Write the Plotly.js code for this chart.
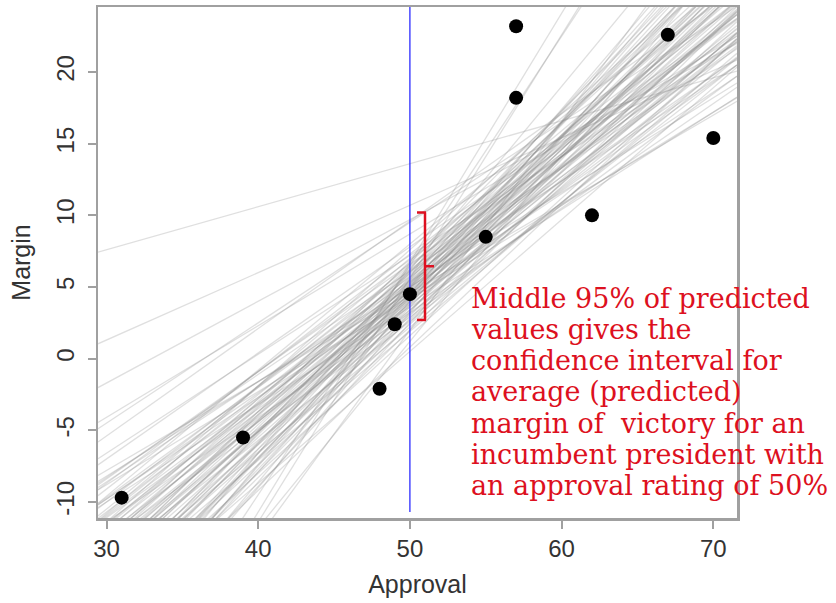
<!DOCTYPE html>
<html>
<head>
<meta charset="utf-8">
<script src="https://cdn.plot.ly/plotly-3.0.1.min.js"></script>
<style>html,body{margin:0;padding:0;background:#fff;}#chart{width:836px;height:603px;}</style>
</head>
<body>
<div id="chart"></div>
<script>
// Observed incumbent elections
const approval = [31, 39, 48, 49, 50, 55, 57, 57, 62, 67, 70];
const margin   = [-9.7, -5.5, -2.1, 2.4, 4.5, 8.5, 23.2, 18.2, 10.0, 22.6, 15.4];

// Bootstrap regression lines: slope and predicted margin at approval = 50
const bootSlope = [0.62,0.65,0.66,0.68,0.70,0.71,0.72,0.73,0.74,0.75,0.76,0.77,0.78,0.78,0.79,0.80,0.80,0.81,0.82,0.82,
  0.83,0.83,0.84,0.84,0.85,0.85,0.86,0.86,0.87,0.87,0.88,0.88,0.89,0.89,0.90,0.90,0.91,0.91,0.92,0.92,
  0.93,0.93,0.94,0.94,0.95,0.95,0.96,0.96,0.97,0.97,0.98,0.98,0.99,1.00,1.00,1.01,1.02,1.02,1.03,1.04,
  1.05,1.05,1.06,1.07,1.08,1.09,1.10,1.11,1.12,1.13,1.14,1.15,1.17,1.18,1.20,1.22,1.24,1.26,1.28,1.30,
  0.74,0.69,0.88,0.95,1.00,0.92,
  0.30,0.47,0.57,0.64,0.70,0.75,1.70,1.74,1.60,1.45];
const bootAt50 = [4.6,4.2,5.0,3.6,5.4,4.4,6.1,3.2,5.0,6.6,4.1,5.7,2.9,6.9,4.8,5.3,3.8,6.2,4.5,7.3,
  2.6,5.1,4.0,5.9,3.4,6.5,4.7,5.5,2.2,4.3,6.0,3.7,5.2,7.0,4.6,1.9,5.8,3.1,4.9,6.4,
  4.2,2.7,5.4,3.9,6.1,4.5,1.6,5.0,3.4,6.7,4.8,2.4,5.6,4.1,3.0,5.3,6.3,4.4,2.0,5.1,
  3.6,6.8,4.6,2.8,5.7,4.0,3.3,5.2,6.0,4.3,2.5,4.9,3.8,5.5,4.5,3.2,5.0,4.0,6.2,1.2,
  7.8,7.2,8.0,7.6,0.8,0.5,
  13.6,10.7,9.7,8.7,9.5,9.6,5.6,6.7,6.5,2.0];

// Confidence bracket at approval = 50
const ciX = 50;
const ciLow = 2.7;
const ciHigh = 10.2;

const xTicks = [30, 40, 50, 60, 70];
const yTicks = [-10, -5, 0, 5, 10, 15, 20];

const noteLines = [
  "Middle 95% of predicted",
  "values gives the",
  "confidence interval for",
  "average (predicted)",
  "margin of  victory for an",
  "incumbent president with",
  "an approval rating of 50%"
];

const xRange = [29.44, 71.56];
const yRange = [-11.12, 24.54];

const traces = [];
for (let i = 0; i < bootSlope.length; i++) {
  const xs = [xRange[0], xRange[1]];
  traces.push({
    x: xs,
    y: xs.map(v => bootAt50[i] + bootSlope[i] * (v - 50)),
    mode: 'lines', type: 'scatter', hoverinfo: 'skip', showlegend: false,
    line: {color: 'rgba(135,135,135,0.27)', width: 1.3}
  });
}
// vertical reference line at approval = 50
traces.push({
  x: [ciX, ciX], y: [-10.7, yRange[1]],
  mode: 'lines', type: 'scatter', showlegend: false,
  line: {color: '#1a1aff', width: 1.2}
});
traces.push({
  x: approval, y: margin, mode: 'markers', type: 'scatter', showlegend: false,
  marker: {color: '#000', size: 14}
});

// plot-area geometry (pixels)
const L = 98, R = 99, T = 7, B = 85, W = 836, H = 603;
const pw = W - L - R, ph = H - T - B;
const px2x = p => xRange[0] + (p - L) / pw * (xRange[1] - xRange[0]);

const red = '#dd1020';
const shapes = [
  {type: 'line', xref: 'x', yref: 'y', x0: px2x(425), x1: px2x(425), y0: ciLow, y1: ciHigh, line: {color: red, width: 2.5}},
  {type: 'line', xref: 'x', yref: 'y', x0: px2x(417), x1: px2x(426), y0: ciHigh, y1: ciHigh, line: {color: red, width: 2.5}},
  {type: 'line', xref: 'x', yref: 'y', x0: px2x(417), x1: px2x(426), y0: ciLow, y1: ciLow, line: {color: red, width: 2.5}},
  {type: 'line', xref: 'x', yref: 'y', x0: px2x(425), x1: px2x(434), y0: (ciLow + ciHigh) / 2, y1: (ciLow + ciHigh) / 2, line: {color: red, width: 2.5}}
];

const annotations = noteLines.map((t, i) => {
  const baseline = 307 + i * 31.3;
  const mid = baseline - 9;
  return {
    text: t, xref: 'paper', yref: 'paper',
    x: (469 - L) / pw, y: 1 - (mid - T) / ph,
    xanchor: 'left', yanchor: 'middle', showarrow: false,
    font: {family: 'DejaVu Serif', size: 27, color: red}
  };
});

const axisCommon = {
  showgrid: false, zeroline: false, showline: true, mirror: true,
  linecolor: '#a0a0a0', linewidth: 2.5,
  ticks: 'outside', ticklen: 8, tickwidth: 2, tickcolor: '#a0a0a0',
  tickfont: {family: 'Liberation Sans, Arial, sans-serif', size: 24, color: '#333'}
};

const layout = {
  width: W, height: H,
  margin: {l: L, r: R, t: T, b: B},
  paper_bgcolor: '#fff', plot_bgcolor: '#fff',
  showlegend: false,
  xaxis: Object.assign({}, axisCommon, {
    range: xRange, tickmode: 'array', tickvals: xTicks, ticktext: xTicks.map(String),
    title: {text: 'Approval', font: {family: 'Liberation Sans, Arial, sans-serif', size: 25, color: '#333'}, standoff: 14}
  }),
  yaxis: Object.assign({}, axisCommon, {
    range: yRange, tickmode: 'array', tickvals: yTicks, ticktext: yTicks.map(String),
    tickangle: -90, ticklabelstandoff: 4,
    title: {text: 'Margin', font: {family: 'Liberation Sans, Arial, sans-serif', size: 25, color: '#333'}, standoff: 14}
  }),
  shapes: shapes,
  annotations: annotations
};

Plotly.newPlot('chart', traces, layout, {displayModeBar: false, staticPlot: true});
</script>
</body>
</html>
